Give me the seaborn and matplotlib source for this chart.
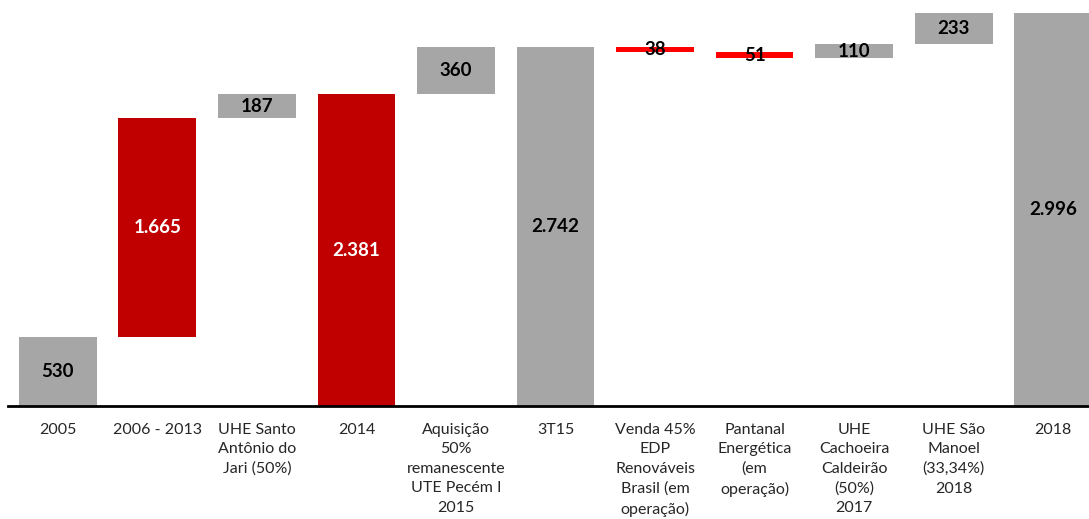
import matplotlib
matplotlib.use("Agg")
import matplotlib.pyplot as plt
import numpy as np
import pandas as pd
import seaborn as sns

# Waterfall data (MW)
categories = [
    "2005", "2006 - 2013", "UHE Santo\nAntônio do\nJari (50%)", "2014",
    "Aquisição\n50%\nremanescente\nUTE Pecém I\n2015", "3T15",
    "Venda 45%\nEDP\nRenováveis\nBrasil (em\noperação)",
    "Pantanal\nEnergética\n(em\noperação)",
    "UHE\nCachoeira\nCaldeirão\n(50%)\n2017",
    "UHE São\nManoel\n(33,34%)\n2018", "2018",
]
values = [530, 1665, 187, 2381, 360, 2742, -38, -51, 110, 233, 2996]
kinds = ["total", "step", "step", "total", "step", "total",
         "step", "step", "step", "step", "total"]
labels = ["530", "1.665", "187", "2.381", "360", "2.742",
          "38", "51", "110", "233", "2.996"]

GRAY = "#A6A6A6"
DARK_RED = "#C00000"
LINE_RED = "#FF0000"
bar_colors = [GRAY, DARK_RED, GRAY, DARK_RED, GRAY, GRAY,
              LINE_RED, LINE_RED, GRAY, GRAY, GRAY]
label_colors = ["black", "white", "black", "white", "black", "black",
                "black", "black", "black", "black", "black"]

# compute floating bases
bases, heights = [], []
running = 0
for v, k in zip(values, kinds):
    if k == "total":
        bases.append(0)
        heights.append(v)
        running = v
    else:
        if v >= 0:
            bases.append(running)
        else:
            bases.append(running + v)
        heights.append(abs(v))
        running += v

df = pd.DataFrame({"category": categories, "height": heights, "base": bases})

sns.set_theme(style="white")
plt.rcParams["font.family"] = ["Lato", "DejaVu Sans"]

fig = plt.figure(figsize=(10.89, 5.19), dpi=100)
ax = fig.add_axes([8 / 1089, 113 / 519, (1103 - 8) / 1089, 406 / 519])

sns.barplot(data=df, x="category", y="height", bottom=df["base"].to_numpy(),
            order=categories, width=0.78, color=GRAY, ax=ax,
            errorbar=None, linewidth=0)

for patch, c in zip(ax.patches, bar_colors):
    patch.set_facecolor(c)

texts = ax.bar_label(ax.containers[0], labels=labels, label_type="center",
                     fontsize=13.5, fontweight="bold")
for t, c in zip(texts, label_colors):
    t.set_color(c)

ax.set_xlim(-0.5, 10.5)
ax.set_ylim(0, 3099)
ax.set_xlabel("")
ax.set_ylabel("")
ax.set_yticks([])
ax.tick_params(axis="x", length=0, pad=12)
for lbl in ax.get_xticklabels():
    lbl.set_fontsize(11.5)
    lbl.set_linespacing(1.5)
    lbl.set_verticalalignment("top")

sns.despine(ax=ax, left=True)
ax.spines["bottom"].set_color("black")
ax.spines["bottom"].set_linewidth(2)

fig.savefig("out.png", dpi=100)
